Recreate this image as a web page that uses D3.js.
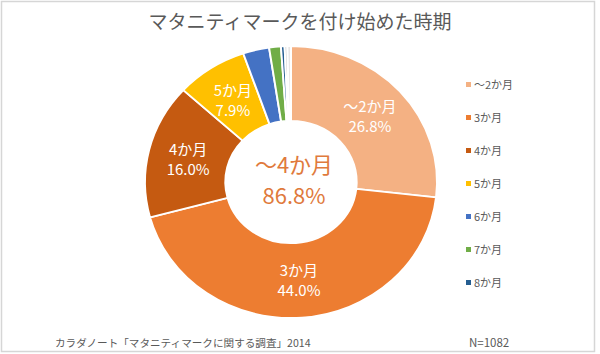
<!DOCTYPE html>
<html lang="ja">
<head>
<meta charset="utf-8">
<script src="https://cdn.jsdelivr.net/npm/d3@7"></script>
<style>
  html, body { margin: 0; padding: 0; background: #fff; }
  #chart { width: 600px; height: 354px; }
  text { font-family: "Noto Sans CJK JP", "Noto Sans", sans-serif; }
</style>
</head>
<body>
<div id="chart"></div>
<script>
// Maternity mark start timing - doughnut chart
const categories = ['～2か月', '3か月', '4か月', '5か月', '6か月', '7か月', '8か月', '9か月以降', '不明'];
const values = [26.8, 44.0, 16.0, 7.9, 2.9, 1.3, 0.4, 0.3, 0.4];
const sliceColors = ['#F4B183', '#ED7D31', '#C55A11', '#FFC000', '#4472C4', '#70AD47', '#255E91', '#BFBFBF', '#E7E6E6'];
const labelled = ['～2か月', '3か月', '4か月', '5か月'];
const legendItems = categories.slice(0, 7);
const centerLabel = ['～4か月', '86.8%'];
const title = 'マタニティマークを付け始めた時期';
const source = 'カラダノート「マタニティマークに関する調査」2014';
const sampleNote = 'N=1082';

(function () {
  const W = 600, H = 354;
  const cx = 291, cy = 182;
  const ry = 136, rx = 146;
  const sx = rx / ry;
  const inner = ry * 0.45;

  const svg = d3.select('#chart').append('svg')
    .attr('width', W)
    .attr('height', H)
    .attr('viewBox', `0 0 ${W} ${H}`);

  svg.append('rect')
    .attr('x', 1.5).attr('y', 1.5)
    .attr('width', 593).attr('height', 350)
    .attr('fill', '#fff')
    .attr('stroke', '#d6d6d6')
    .attr('stroke-width', 1.5);

  svg.append('text')
    .attr('x', 300).attr('y', 29)
    .attr('text-anchor', 'middle')
    .attr('font-size', 19)
    .attr('fill', '#595959')
    .text(title);

  const data = categories.map((c, i) => ({ name: c, value: values[i], color: sliceColors[i] }));
  const pie = d3.pie().sort(null).value(d => d.value);
  const arcData = pie(data);
  const arc = d3.arc().innerRadius(inner).outerRadius(ry);

  const g = svg.append('g').attr('transform', `translate(${cx},${cy}) scale(${sx},1)`);
  g.selectAll('path')
    .data(arcData)
    .join('path')
    .attr('d', arc)
    .attr('fill', d => d.data.color)
    .attr('stroke', '#fff')
    .attr('stroke-width', 1.8)
    .attr('stroke-linejoin', 'round');

  const labels = svg.append('g');
  arcData.filter(d => labelled.includes(d.data.name)).forEach(d => {
    const [x, y] = arc.centroid(d);
    const t = labels.append('text')
      .attr('x', cx + x * sx)
      .attr('y', cy + y)
      .attr('text-anchor', 'middle')
      .attr('font-size', 15)
      .attr('fill', '#fff');
    t.append('tspan').attr('x', cx + x * sx).attr('dy', -4).text(d.data.name);
    t.append('tspan').attr('x', cx + x * sx).attr('dy', 20).text(d3.format('.1f')(d.data.value) + '%');
  });

  const center = svg.append('g').attr('fill', '#E07A3C').attr('font-size', 22);
  center.append('text')
    .attr('x', cx + 3).attr('y', cy - 9)
    .attr('text-anchor', 'middle')
    .text(centerLabel[0]);
  center.append('text')
    .attr('x', cx + 3).attr('y', cy + 22)
    .attr('text-anchor', 'middle')
    .text(centerLabel[1]);

  const legend = svg.append('g').attr('transform', 'translate(466,85)');
  const row = legend.selectAll('g')
    .data(legendItems)
    .join('g')
    .attr('transform', (d, i) => `translate(0,${i * 33})`);
  row.append('rect')
    .attr('x', 0).attr('y', -3)
    .attr('width', 5).attr('height', 5)
    .attr('fill', (d, i) => sliceColors[i]);
  row.append('text')
    .attr('x', 8).attr('y', 4)
    .attr('font-size', 11)
    .attr('fill', '#595959')
    .text(d => d);

  svg.append('text')
    .attr('x', 55).attr('y', 347)
    .attr('font-size', 10.6)
    .attr('fill', '#595959')
    .text(source);
  svg.append('text')
    .attr('x', 469).attr('y', 347)
    .attr('font-size', 11.5)
    .attr('fill', '#595959')
    .text(sampleNote);
})();
</script>
</body>
</html>
